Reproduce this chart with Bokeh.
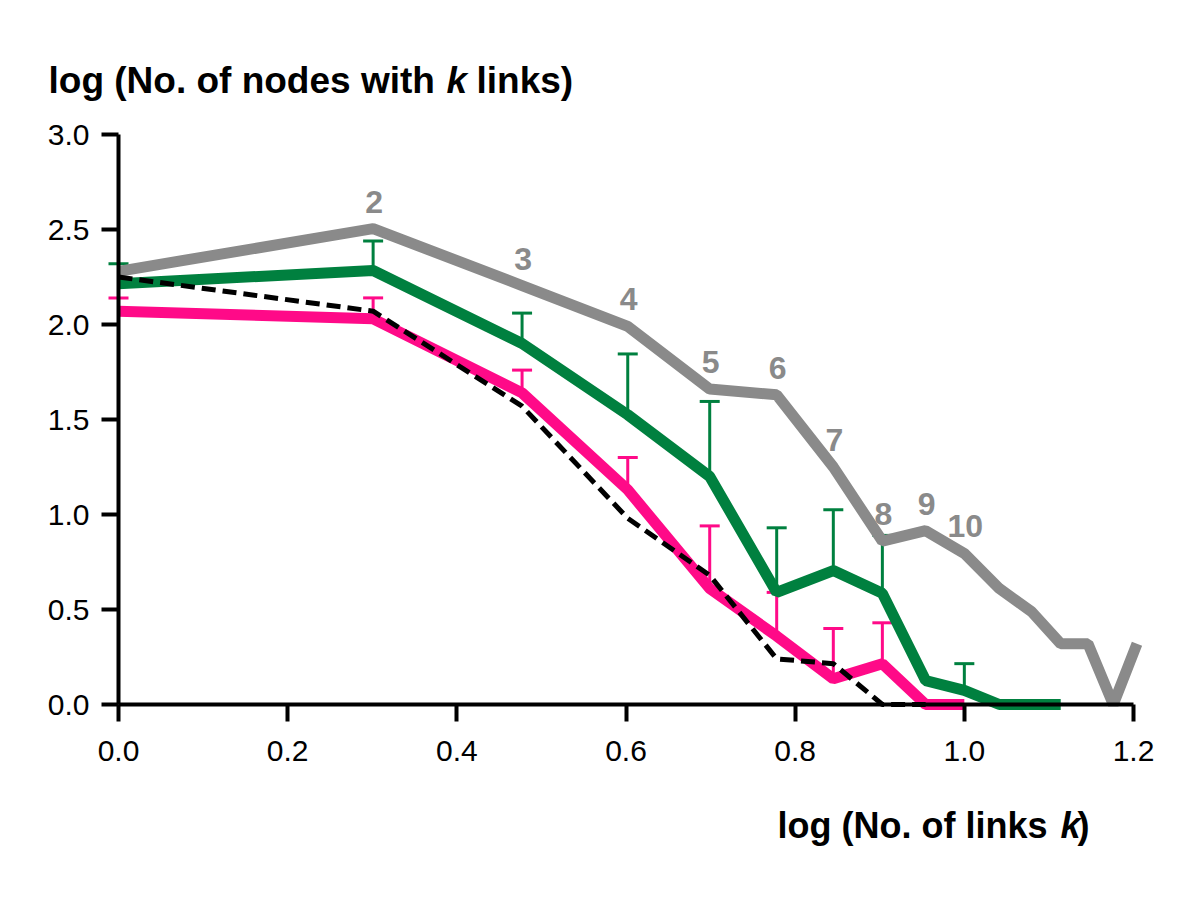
import numpy as np
from bokeh.plotting import figure
from bokeh.models import Range1d, FixedTicker, PrintfTickFormatter, Whisker, TeeHead, ColumnDataSource, Label
from bokeh.core.properties import value
from bokeh.embed import file_html
from bokeh.resources import INLINE

# ---- data ----
k_gray = list(range(1, 17))
gray = [2.28, 2.505, 2.205, 1.99, 1.66, 1.63, 1.25, 0.86, 0.915, 0.795, 0.61, 0.49, 0.32, 0.32, 0.0, 0.32]

k_green = list(range(1, 14))
green = [2.215, 2.284, 1.90, 1.525, 1.20, 0.59, 0.705, 0.585, 0.126, 0.074, 0.0, 0.0, 0.0]
green_err_k = [1, 2, 3, 4, 5, 6, 7, 8, 10]
green_err_top = [2.32, 2.44, 2.06, 1.845, 1.595, 0.93, 1.025, 0.89, 0.215]

k_pink = list(range(1, 11))
pink = [2.07, 2.03, 1.64, 1.13, 0.61, 0.36, 0.135, 0.215, 0.0, 0.0]
pink_err_k = [1, 2, 3, 4, 5, 6, 7, 8]
pink_err_top = [2.14, 2.14, 1.76, 1.30, 0.94, 0.59, 0.40, 0.43]

k_dash = list(range(1, 10))
dashed = [2.25, 2.07, 1.57, 0.98, 0.68, 0.24, 0.215, 0.0, 0.0]

label_k = [2, 3, 4, 5, 6, 7, 8, 9, 10]
label_text = ["2", "3", "4", "5", "6", "7", "8", "9", "10"]

x_ticks = [0.0, 0.2, 0.4, 0.6, 0.8, 1.0, 1.2]
y_ticks = [0.0, 0.5, 1.0, 1.5, 2.0, 2.5, 3.0]

GRAY = "#8a8a8a"
GREEN = "#00803f"
PINK = "#ff0a88"
FONT = "Liberation Sans"

# canvas geometry: data (0,0) at pixel (118,704), (1.2,3.0) at (1133,134)
W, H = 1184, 883
X0, XS = 118.0, 1015.0 / 1.2
Y0, YS = 704.0, 570.0 / 3.0


def dx(px):
    return (px - X0) / XS


def dy(py):
    return (Y0 - py) / YS


p = figure(width=W, height=H, output_backend="svg", toolbar_location=None,
           x_range=Range1d(dx(0), dx(W)), y_range=Range1d(dy(H), dy(0)),
           min_border_left=0, min_border_right=0, min_border_top=0, min_border_bottom=0)
p.outline_line_color = None
p.grid.visible = False
p.background_fill_color = "white"
p.border_fill_color = "white"

for ax in (p.xaxis[0], p.yaxis[0]):
    ax.axis_line_width = 4
    ax.axis_line_color = "black"
    ax.major_tick_line_width = 4
    ax.major_tick_line_color = "black"
    ax.major_tick_in = 0
    ax.major_tick_out = 17
    ax.minor_tick_line_color = None
    ax.major_label_text_font = FONT
    ax.major_label_text_font_size = "30px"
    ax.major_label_text_color = "black"
    ax.formatter = PrintfTickFormatter(format="%.1f")
    ax.fixed_location = 0

p.xaxis[0].ticker = FixedTicker(ticks=x_ticks)
p.yaxis[0].ticker = FixedTicker(ticks=y_ticks)
p.xaxis[0].bounds = (0, 1.2)
p.yaxis[0].bounds = (0, 3.0)
p.xaxis[0].major_label_standoff = 19
p.yaxis[0].major_label_standoff = 12

p.line(np.log10(k_gray), gray, line_color=GRAY, line_width=11)
p.line(np.log10(k_green), green, line_color=GREEN, line_width=11)
p.line(np.log10(k_pink), pink, line_color=PINK, line_width=11)
p.line(np.log10(k_dash), dashed, line_color="black", line_width=5, line_dash="14 7")

# upper error bars
gsrc = ColumnDataSource(dict(x=np.log10(green_err_k),
                             lo=[green[k - 1] for k in green_err_k], hi=green_err_top))
psrc = ColumnDataSource(dict(x=np.log10(pink_err_k),
                             lo=[pink[k - 1] for k in pink_err_k], hi=pink_err_top))
for src, col in ((gsrc, GREEN), (psrc, PINK)):
    w = Whisker(source=src, base="x", lower="lo", upper="hi", dimension="height",
                line_color=col, line_width=3,
                lower_head=None,
                upper_head=TeeHead(size=20, line_color=col, line_width=3))
    p.add_layout(w)

# numbers over the gray line
lsrc = ColumnDataSource(dict(x=np.log10(label_k), y=[gray[k - 1] for k in label_k], t=label_text))
p.text(x="x", y="y", text="t", source=lsrc, y_offset=-27, x_offset=1,
       text_align="center", text_baseline="middle",
       text_font=value(FONT), text_font_style="bold", text_font_size="32px", text_color=GRAY)

# axis titles
ystyle = dict(text_font=FONT, text_font_size="37px", text_color="black", text_baseline="alphabetic")
xstyle = dict(text_font=FONT, text_font_size="36px", text_color="black", text_baseline="alphabetic")
p.add_layout(Label(x=dx(48), y=dy(80), text="log (No. of nodes with", text_font_style="bold", **ystyle))
p.add_layout(Label(x=dx(446), y=dy(80), text="k", text_font_style="bold italic", **ystyle))
p.add_layout(Label(x=dx(476), y=dy(80), text="links)", text_font_style="bold", **ystyle))

p.add_layout(Label(x=dx(777), y=dy(825), text="log (No. of links", text_font_style="bold", **xstyle))
p.add_layout(Label(x=dx(1060), y=dy(825), text="k", text_font_style="bold italic", **xstyle))
p.add_layout(Label(x=dx(1077), y=dy(825), text=")", text_font_style="bold", **xstyle))

open("out.html", "w").write(file_html(p, INLINE))
